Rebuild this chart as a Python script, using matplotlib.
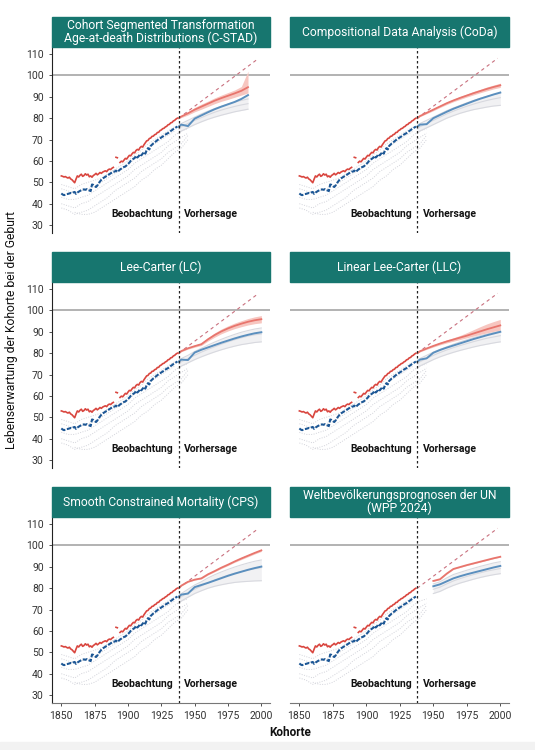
import numpy as np
import matplotlib.pyplot as plt
from matplotlib.patches import Rectangle

plt.rcParams['font.family'] = ['Roboto', 'DejaVu Sans']

nan = np.nan

# observed cohorts 1850-1937
obs_years = list(range(1850, 1938))
best_obs = [53.0, 52.8, 52.5, 52.7, 52.3, 52.0, 52.4, 51.6, 51.2, 50.5,
            49.8, 51.5, 53.0, 52.5, 53.3, 53.8, 52.8, 53.2, 54.0, 53.4,
            53.8, 52.6, 53.0, 52.4, 53.2, 53.6, 54.2, 53.5, 54.0, 54.6,
            54.2, 54.8, 55.1, 55.4, 55.0, 55.8, 56.2, 56.0, 56.6, 57.0,
            nan, 61.7, 61.5, nan, 59.3, 59.9, 59.6, 60.4, 61.2, 60.9,
            61.8, 62.6, 62.4, 63.3, 64.0, 63.8, 64.9, 65.4, 65.1, 66.2,
            66.8, 66.5, 67.6, 68.5, 69.4, 69.6, 70.5, 70.7, 71.5, 71.6,
            72.3, 72.5, 73.3, 73.4, 74.2, 74.5, 75.1, 75.3, 75.9, 76.2,
            76.9, 77.1, 77.8, 78.0, 78.7, 79.0, 79.6, 80.0]
ctry_obs = [44.8, 44.3, 44.0, 44.2, 44.5, 44.6, 44.8, 45.0, 44.9, 45.3,
            45.5, 44.6, 45.2, 45.6, 46.0, 46.3, 46.6, 46.7, 46.5, 46.8,
            46.4, 46.2, 45.9, 49.0, 48.8, 48.3, 47.8, 48.5, 49.6, 50.4,
            51.2, 51.8, 52.2, 52.6, 53.0, 53.3, 53.8, 54.2, 54.6, 55.0,
            55.0, 55.5, 54.8, 55.4, 56.0, 56.4, 56.8, 57.2, 57.4, 58.0,
            58.6, 59.2, 60.0, 60.5, 61.0, 61.4, 62.4, 61.6, 62.2, 63.2,
            62.6, 63.4, 64.2, 63.4, 65.0, 66.0, 65.4, 67.0, 67.6, 68.2,
            68.6, 69.2, 69.7, 70.2, 70.6, 71.0, 71.4, 71.9, 72.3, 72.7,
            73.0, 73.5, 74.0, 74.4, 74.9, 75.3, 75.7, 76.1]

# other countries, observed (every 5 years)
grey_years = list(range(1850, 1950, 5))
grey_obs_1 = [49, 48, 47, 49, 50, 51, 52, 54, 56, 58, 60, 63, 65, 68, 70, 72, 74, 76, nan, nan]
grey_obs_2 = [47, 46, 45, 46, 47, 48, 50, 52, 54, 56, 58, 61, 63, 66, 68, 70, 72, 74, nan, nan]
grey_obs_3 = [43, 42, 42, 43, 44, 46, 48, 50, 52, 54, 56, 59, 61, 63, 65, 67, 69, 72, 74, 75]
grey_obs_4 = [40, 39, 38, 40, 41, 43, 45, 47, 49, 51, 53, 56, 58, 60, 62, 64, 67, 69, 71, 73]
grey_obs_5 = [38, 37, 35, 36, 37, 39, 41, 43, 46, 48, 50, 52, 55, 57, 59, 61, 64, 66, 68, 72]
grey_obs_6 = [nan, nan, 36, 35, 35, 36, 38, 40, 42, 44, 46, 48, 51, 53, 56, 58, 61, 64, 66, 70]

# forecasts
fc_years = [1938, 1940, 1945, 1950, 1955, 1960, 1965, 1970, 1975, 1980, 1985, 1990, 1995, 2000]

titles = ['Cohort Segmented Transformation\nAge-at-death Distributions (C-STAD)',
          'Compositional Data Analysis (CoDa)',
          'Lee-Carter (LC)',
          'Linear Lee-Carter (LLC)',
          'Smooth Constrained Mortality (CPS)',
          'Weltbevölkerungsprognosen der UN\n(WPP 2024)']

cstad_best = [80.0, 80.8, 82.3, 84.0, 85.4, 86.8, 88.2, 89.4, 90.5, 91.6, 92.8, 94.5, nan, nan]
cstad_lo = [79.8, 80.3, 81.5, 83.0, 84.2, 85.5, 86.8, 87.9, 88.8, 89.8, 90.8, 91.8, nan, nan]
cstad_hi = [80.2, 81.2, 83.0, 85.0, 86.6, 88.0, 89.5, 90.8, 92.0, 93.2, 94.8, 102.0, nan, nan]
cstad_ctry = [76.0, 77.0, 76.3, 79.8, 81.3, 82.8, 84.2, 85.4, 86.5, 87.6, 89.0, 90.8, nan, nan]
cstad_g1 = [76.5, 77.5, 79.0, 80.5, 82.0, 83.3, 84.5, 85.6, 86.6, 87.5, 88.3, 89.0, nan, nan]
cstad_g2 = [75.0, 76.0, 77.5, 79.0, 80.3, 81.6, 82.8, 83.8, 84.7, 85.5, 86.2, 86.8, nan, nan]
cstad_g3 = [73.0, 74.0, 75.5, 77.0, 78.3, 79.5, 80.5, 81.4, 82.2, 83.0, 83.6, 84.2, nan, nan]

coda_best = [80.0, 81.0, 82.5, 84.0, 85.5, 87.0, 88.3, 89.5, 90.6, 91.7, 92.7, 93.7, 94.6, 95.4]
coda_lo = [79.8, 80.7, 82.1, 83.5, 85.0, 86.4, 87.7, 88.8, 89.9, 90.9, 91.9, 92.8, 93.7, 94.4]
coda_hi = [80.2, 81.3, 82.9, 84.5, 86.0, 87.6, 88.9, 90.2, 91.3, 92.5, 93.5, 94.6, 95.5, 96.4]
coda_ctry = [76.0, 77.0, 77.2, 80.0, 81.5, 83.0, 84.4, 85.6, 86.8, 88.0, 89.1, 90.1, 91.1, 92.0]
coda_g1 = [76.5, 77.5, 79.0, 80.5, 82.0, 83.5, 84.8, 86.0, 87.2, 88.3, 89.3, 90.2, 91.0, 91.7]
coda_g2 = [75.0, 76.0, 77.5, 79.0, 80.5, 82.0, 83.3, 84.5, 85.6, 86.6, 87.5, 88.3, 89.0, 89.6]
coda_g3 = [73.0, 74.0, 75.5, 77.0, 78.5, 80.0, 81.2, 82.3, 83.2, 84.0, 84.6, 85.2, 85.7, 86.0]

lc_best = [80.0, 81.0, 82.3, 83.3, 84.2, 86.5, 88.5, 90.2, 91.6, 92.8, 93.8, 94.7, 95.4, 95.9]
lc_lo = [79.8, 80.7, 81.9, 82.8, 83.6, 85.7, 87.5, 89.1, 90.4, 91.5, 92.4, 93.2, 93.8, 94.2]
lc_hi = [80.2, 81.3, 82.7, 83.8, 84.8, 87.3, 89.5, 91.3, 92.8, 94.1, 95.2, 96.2, 97.0, 97.6]
lc_ctry = [76.0, 77.0, 76.8, 80.3, 81.6, 82.7, 83.8, 84.9, 85.9, 86.9, 87.8, 88.6, 89.3, 89.8]
lc_g1 = [76.5, 77.5, 79.0, 80.8, 82.3, 83.8, 85.2, 86.5, 87.7, 88.8, 89.8, 90.6, 91.3, 91.8]
lc_g2 = [75.0, 76.0, 77.5, 79.0, 80.5, 81.8, 83.0, 84.2, 85.3, 86.3, 87.2, 88.0, 88.6, 89.0]
lc_g3 = [73.0, 74.0, 75.5, 77.0, 78.3, 79.5, 80.6, 81.6, 82.5, 83.3, 84.0, 84.5, 85.0, 85.3]

llc_best = [80.0, 80.9, 82.2, 83.4, 84.5, 85.5, 86.4, 87.3, 88.2, 89.2, 90.2, 91.2, 92.1, 93.0]
llc_lo = [79.8, 80.6, 81.8, 82.9, 83.9, 84.8, 85.6, 86.4, 87.2, 88.0, 88.8, 89.5, 90.2, 90.8]
llc_hi = [80.2, 81.2, 82.6, 83.9, 85.1, 86.2, 87.2, 88.3, 89.6, 91.0, 92.4, 93.7, 94.8, 95.8]
llc_ctry = [76.0, 77.0, 77.6, 80.2, 81.5, 82.6, 83.6, 84.6, 85.6, 86.6, 87.5, 88.4, 89.2, 90.0]
llc_g1 = [76.5, 77.5, 79.0, 80.5, 81.8, 83.0, 84.2, 85.3, 86.3, 87.3, 88.2, 89.0, 89.7, 90.3]
llc_g2 = [75.0, 76.0, 77.5, 79.0, 80.3, 81.5, 82.6, 83.6, 84.5, 85.4, 86.2, 87.0, 87.6, 88.2]
llc_g3 = [73.0, 74.0, 75.5, 77.0, 78.3, 79.4, 80.4, 81.3, 82.1, 82.9, 83.6, 84.2, 84.8, 85.3]

cps_best = [80.0, 81.2, 83.0, 84.0, 84.6, 86.5, 88.0, 89.6, 91.0, 92.5, 93.9, 95.2, 96.5, 97.7]
cps_lo = [79.9, 81.0, 82.8, 83.8, 84.3, 86.2, 87.7, 89.2, 90.6, 92.1, 93.4, 94.7, 96.0, 97.2]
cps_hi = [80.1, 81.4, 83.2, 84.2, 84.9, 86.8, 88.3, 90.0, 91.4, 92.9, 94.4, 95.7, 97.0, 98.2]
cps_ctry = [76.0, 77.0, 77.5, 80.5, 81.5, 82.5, 83.6, 84.7, 85.8, 86.8, 87.7, 88.6, 89.4, 90.1]
cps_g1 = [76.5, 77.5, 79.5, 81.5, 83.0, 84.8, 86.3, 87.6, 88.8, 89.9, 90.9, 91.8, 92.6, 93.2]
cps_g2 = [75.0, 76.0, 77.8, 79.5, 81.0, 82.5, 83.8, 85.0, 86.1, 87.0, 87.8, 88.5, 89.1, 89.6]
cps_g3 = [73.0, 74.0, 75.8, 77.5, 78.8, 80.0, 80.9, 81.6, 82.2, 82.7, 83.0, 83.2, 83.4, 83.5]

wpp_best = [nan, nan, nan, 83.4, 84.2, 86.8, 89.0, 89.9, 90.8, 91.6, 92.4, 93.2, 94.0, 94.7]
wpp_lo = [nan, nan, nan, 83.2, 84.0, 86.6, 88.8, 89.7, 90.6, 91.4, 92.2, 93.0, 93.8, 94.5]
wpp_hi = [nan, nan, nan, 83.6, 84.4, 87.0, 89.2, 90.1, 91.0, 91.8, 92.6, 93.4, 94.2, 94.9]
wpp_ctry = [nan, nan, nan, 80.9, 81.8, 83.2, 84.6, 85.6, 86.5, 87.3, 88.1, 88.9, 89.7, 90.4]
wpp_g1 = [nan, nan, nan, 82.0, 83.0, 84.8, 86.4, 87.4, 88.4, 89.3, 90.2, 91.0, 91.8, 92.4]
wpp_g2 = [nan, nan, nan, 79.5, 80.5, 82.0, 83.4, 84.5, 85.5, 86.4, 87.2, 88.0, 88.6, 89.2]
wpp_g3 = [nan, nan, nan, 77.5, 78.5, 80.0, 81.3, 82.4, 83.3, 84.2, 85.0, 85.7, 86.3, 86.8]

models = [
    (cstad_best, cstad_lo, cstad_hi, cstad_ctry, cstad_g1, cstad_g2, cstad_g3),
    (coda_best, coda_lo, coda_hi, coda_ctry, coda_g1, coda_g2, coda_g3),
    (lc_best, lc_lo, lc_hi, lc_ctry, lc_g1, lc_g2, lc_g3),
    (llc_best, llc_lo, llc_hi, llc_ctry, llc_g1, llc_g2, llc_g3),
    (cps_best, cps_lo, cps_hi, cps_ctry, cps_g1, cps_g2, cps_g3),
    (wpp_best, wpp_lo, wpp_hi, wpp_ctry, wpp_g1, wpp_g2, wpp_g3),
]

# linear trend of the best-practice line
trend_years = [1938, 1998]
trend_vals = [80, 108]
jump_off = 1938

teal = '#17766f'
red_obs = '#d9463f'
red_fc = '#e8756d'
blue_obs = '#1d5795'
blue_fc = '#5b8fbe'
grey_c = '#d2d3da'

fig = plt.figure(figsize=(5.35, 7.5), dpi=100)
fig.patches.append(Rectangle((0, 0), 1, 8 / 750, transform=fig.transFigure,
                             color='#f2f2f2', zorder=0))

W, H = 535, 750
lefts = [52, 290]
widths = [218, 219]
tops = [47, 282, 517]
ax_h = 186
box_h = 30

for i, (title, m) in enumerate(zip(titles, models)):
    r, c = divmod(i, 2)
    ax = fig.add_axes([lefts[c] / W, 1 - (tops[r] + ax_h) / H, widths[c] / W, ax_h / H])
    best, lo, hi, ctry, g1, g2, g3 = [np.array(a, dtype=float) for a in m]

    # other countries
    for g in [grey_obs_1, grey_obs_2, grey_obs_3, grey_obs_4, grey_obs_5, grey_obs_6]:
        ax.plot(grey_years, g, color=grey_c, lw=0.7, ls=(0, (1, 1.5)), zorder=1)
    gmax = np.fmax(np.fmax(g1, g2), ctry)
    gmin = np.fmin(g3, g2)
    ax.fill_between(fc_years, gmin, gmax, color='#f1f1f3', lw=0, zorder=1)
    for g in [g1, g2, g3]:
        ax.plot(fc_years, g, color='#d8d9df', lw=0.8, zorder=2)

    ax.axhline(100, color='#a6a6a6', lw=1.2, zorder=1)
    ax.plot(trend_years, trend_vals, color='#c9707e', lw=0.8, ls=(0, (3, 3)), zorder=2)

    ax.plot(obs_years, best_obs, color=red_obs, lw=1.2, zorder=4)
    ax.plot(obs_years, ctry_obs, color=blue_obs, lw=1.5, ls=(0, (2.2, 0.8)), zorder=4)

    ax.fill_between(fc_years, lo, hi, color='#f7c6c0', lw=0, zorder=3)
    ax.plot(fc_years, best, color=red_fc, lw=1.3, zorder=4)
    ax.plot(fc_years, ctry, color=blue_fc, lw=1.4, zorder=4)

    ax.axvline(jump_off, color='#222222', lw=0.9, ls=(0, (2, 2)), zorder=5)
    ax.text(jump_off - 4, 35, 'Beobachtung', ha='right', va='center', fontsize=7.5,
            fontweight='bold', color='#111111')
    ax.text(jump_off + 4, 35, 'Vorhersage', ha='left', va='center', fontsize=7.5,
            fontweight='bold', color='#111111')

    ax.set_xlim(1843, 2006.5)
    ax.set_ylim(26.3, 113.3)
    ax.set_yticks([30, 40, 50, 60, 70, 80, 90, 100, 110])
    ax.set_xticks([1850, 1875, 1900, 1925, 1950, 1975, 2000])
    for s in ['top', 'right']:
        ax.spines[s].set_visible(False)
    ax.spines['left'].set_color('#222222')
    ax.spines['bottom'].set_color('#777777')
    ax.tick_params(labelsize=7.5, colors='#333333', length=2.5, width=0.6)
    if c == 1:
        ax.spines['left'].set_visible(False)
        ax.tick_params(axis='y', left=False, labelleft=False)
    if r < 2:
        ax.spines['bottom'].set_visible(False)
        ax.tick_params(axis='x', bottom=False, labelbottom=False)

    ax.add_patch(Rectangle((0, 1), 1, box_h / ax_h, transform=ax.transAxes,
                           color=teal, clip_on=False, zorder=6))
    ax.text(0.5, 1 + box_h / ax_h / 2, title, transform=ax.transAxes, ha='center',
            va='center', color='white', fontsize=8.7, linespacing=1.05, zorder=7)

fig.text(12 / W, 1 - 330 / H, 'Lebenserwartung der Kohorte bei der Geburt', rotation=90,
         ha='center', va='center', fontsize=8.7, color='#111111')
fig.text(290 / W, 1 - 733 / H, 'Kohorte', ha='center', va='center', fontsize=8.5,
         fontweight='bold', color='#111111')

fig.savefig('out.png', dpi=100)
